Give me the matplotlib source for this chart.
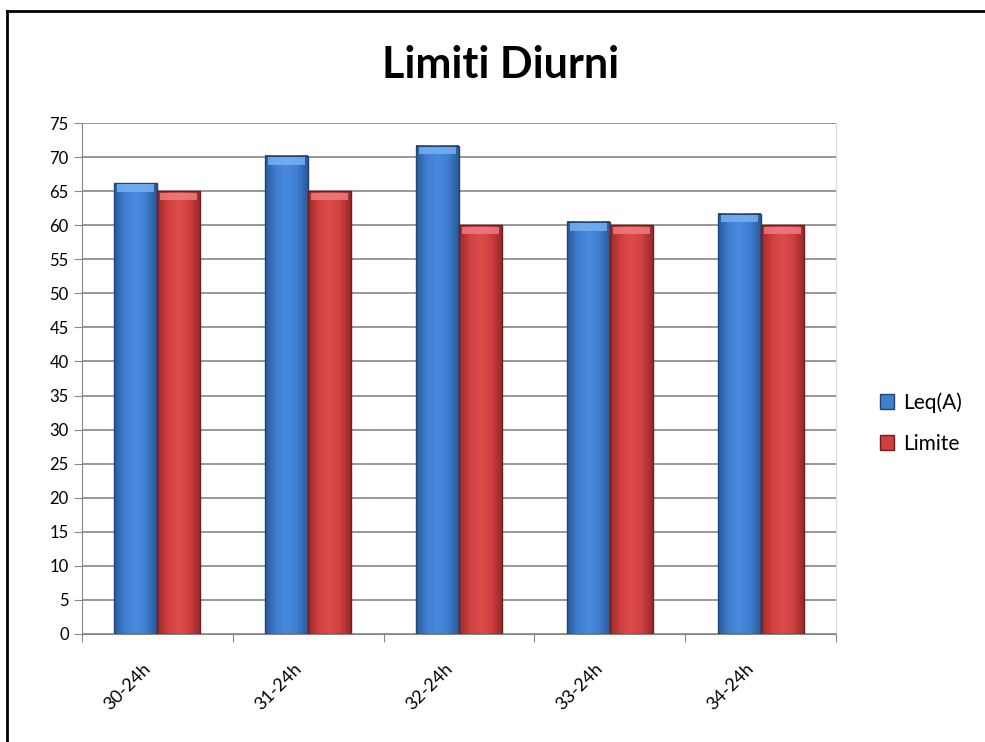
import matplotlib
matplotlib.use("Agg")
import matplotlib.pyplot as plt
import numpy as np
from matplotlib.colors import LinearSegmentedColormap
from matplotlib.patches import Rectangle
from matplotlib.lines import Line2D

categories = ["30-24h", "31-24h", "32-24h", "33-24h", "34-24h"]
leq = [66.2, 70.2, 71.7, 60.5, 61.7]
limite = [65, 65, 60, 60, 60]
series_names = ["Leq(A)", "Limite"]

plt.rcParams["font.family"] = ["Lato", "DejaVu Sans"]

fig = plt.figure(figsize=(9.85, 7.42), dpi=100)
ax = fig.add_axes([0.0832, 0.1456, 0.7655, 0.6886])

blue_cmap = LinearSegmentedColormap.from_list("b", ["#2a5a9a", "#3f7fd0", "#4a8ade", "#3f7fd0", "#2a5a9a"])
red_cmap = LinearSegmentedColormap.from_list("r", ["#9a2a2a", "#d04040", "#de4c4c", "#d04040", "#9a2a2a"])

x = np.arange(len(categories))
w = 0.285
grad = np.linspace(0, 1, 64).reshape(1, -1)


def gradient_bars(xs, vals, cmap, edge, top):
    for xi, v in zip(xs, vals):
        ax.imshow(grad, extent=[xi - w / 2, xi + w / 2, 0, v], cmap=cmap,
                  aspect="auto", zorder=3, interpolation="bilinear")
        ax.add_patch(Rectangle((xi - w / 2, 0), w, v, fill=False, ec=edge, lw=1.0, zorder=4))
        # bevelled top highlight
        ax.add_patch(Rectangle((xi - w / 2 + 0.02, v - 1.3), w - 0.04, 1.1,
                               fc=top, ec="none", zorder=4, alpha=0.8))


gradient_bars(x - w / 2, leq, blue_cmap, "#1f4575", "#7ab4f5")
gradient_bars(x + w / 2, limite, red_cmap, "#6e1e1e", "#f08080")

ax.set_xlim(-0.5, len(categories) - 0.5)
ax.set_ylim(0, 75)
ax.set_yticks(np.arange(0, 80, 5))
ax.yaxis.grid(True, color="#868686", lw=1.2, zorder=1)
ax.set_axisbelow(True)

ax.set_xticks(np.arange(len(categories) + 1) - 0.5, minor=False)
ax.set_xticklabels([])
# labels sit a bit left of the category centre, like the original
ax.set_xticks(x - 0.1, minor=True)
ax.set_xticklabels(categories, minor=True, rotation=45, ha="right",
                   rotation_mode="anchor", fontsize=13)
ax.tick_params(axis="x", which="major", length=6, color="#868686")
ax.tick_params(axis="x", which="minor", length=0, pad=19)
ax.tick_params(axis="y", length=6, color="#868686", labelsize=12)

ax.spines["top"].set_visible(False)
ax.spines["right"].set_color("#d9d9d9")
ax.spines["left"].set_color("#868686")
ax.spines["bottom"].set_color("#868686")

fig.text(0.508, 0.912, "Limiti Diurni", ha="center", va="center",
         fontsize=31, fontweight="bold")

handles = [Rectangle((0, 0), 1, 1, fc="#3f7fd0", ec="#1f4575"),
           Rectangle((0, 0), 1, 1, fc="#d04040", ec="#6e1e1e")]
fig.legend(handles, series_names, loc="center left", bbox_to_anchor=(0.874, 0.43),
           frameon=False, fontsize=15, handlelength=0.7, handleheight=0.7,
           handletextpad=0.45, labelspacing=1.0)

# outer frame: top and left edges only
fig.add_artist(Line2D([0.0075, 1.0], [0.9855, 0.9855], transform=fig.transFigure,
                      color="black", lw=2))
fig.add_artist(Line2D([0.0075, 0.0075], [0.0, 0.9855], transform=fig.transFigure,
                      color="black", lw=2))

fig.savefig("out.png", dpi=100)
